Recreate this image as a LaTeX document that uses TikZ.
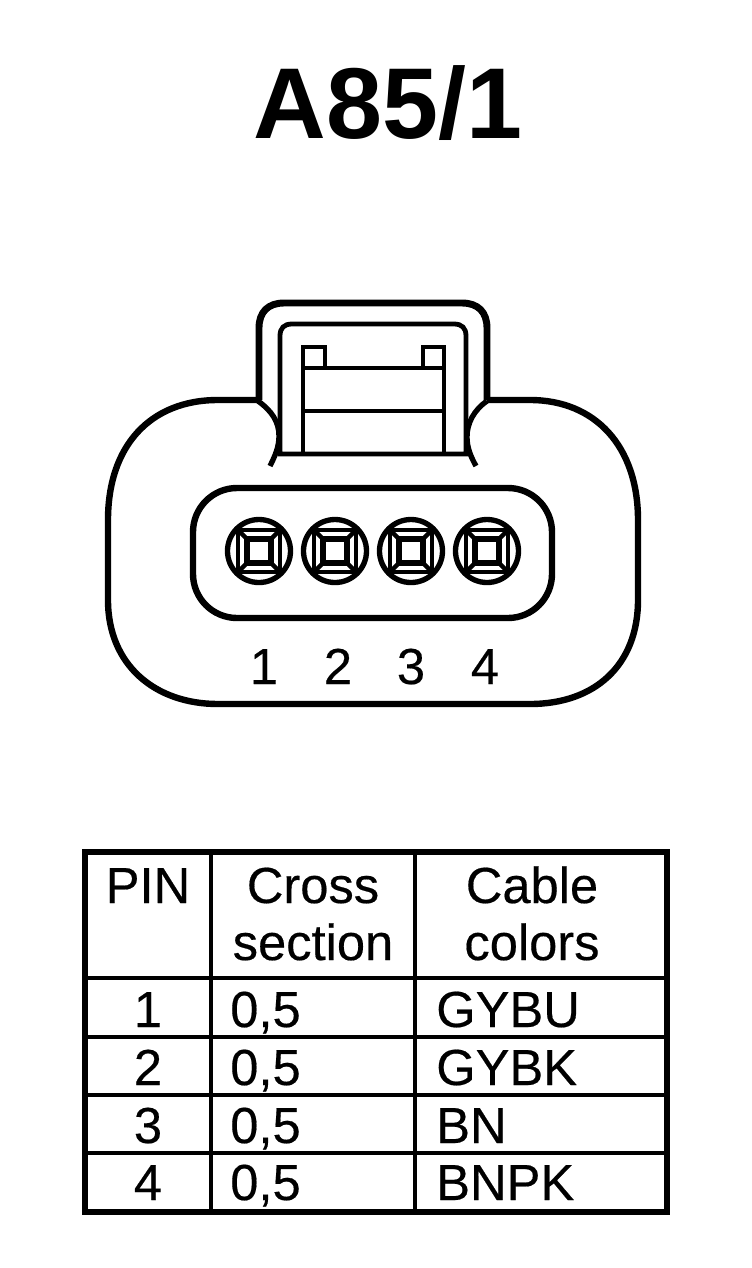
\documentclass[tikz,border=0pt]{standalone}
\usepackage{fontspec}
\setmainfont{Liberation Sans}
\newfontfamily\cellfont[FakeBold=0.35]{Liberation Sans}
\tikzset{
  x=0.75pt,y=-0.75pt,
  heavy/.style={line width=4.8pt,line join=round},
  bodyline/.style={line width=4pt,line join=round},
  thinl/.style={line width=3.6pt,line join=miter},
  pinl/.style={line width=3.8pt},
  cell/.style={font=\cellfont\fontsize{38pt}{43pt}\selectfont,inner sep=0pt,anchor=base},
  celll/.style={cell,anchor=base west},
  gridl/.style={line width=3.4pt},
  frame/.style={line width=4.4pt},
}
\newcommand{\pinsym}[1]{%
  \begin{scope}[shift={(#1,551)}]
    \draw[pinl,line width=4pt] (0,0) circle (31.5);
    \begin{scope}
      \clip (0,0) circle (32);
      \draw[pinl,line width=3.4pt] (-21,-21) rectangle (21,21);
      \draw[pinl,line width=3.4pt] (-12,-12) -- (-26,-26) (12,-12) -- (26,-26) (-12,12) -- (-26,26) (12,12) -- (26,26);
    \end{scope}
    \draw[pinl] (-12,-12) rectangle (12,12);
  \end{scope}}
\begin{document}
\begin{tikzpicture}
\useasboundingbox (0,0) rectangle (752,1268);
\fill[white] (0,0) rectangle (752,1268);
\node[inner sep=0pt,anchor=base,font=\fontsize{75.5pt}{76pt}\selectfont\bfseries] (title) at (388,138) {A85/1};
% housing
\draw[heavy,line width=5.2pt] (259,400) -- (259,328) .. controls (259,312) and (268,303) .. (284,303)
  -- (462,303) .. controls (478,303) and (487,312) .. (487,328) -- (487,400);
\draw[heavy] (259,400) -- (218,400) .. controls (150,400) and (108,446) .. (108,520)
  -- (108,600) .. controls (108,665) and (155,704) .. (218,704)
  -- (530,704) .. controls (595,704) and (638,665) .. (638,600)
  -- (638,520) .. controls (638,446) and (595,400) .. (530,400) -- (487,400);
\draw[bodyline] (258,401) .. controls (272,411) and (279,422) .. (279,436) .. controls (279,447) and (275,456) .. (270,466);
\draw[bodyline] (487,401) .. controls (474,410) and (467,423) .. (467,437) .. controls (467,448) and (471,457) .. (476,466);
% latch
\draw[thinl] (280,454) -- (280,336) .. controls (280,328) and (284,324) .. (292,324) -- (454,324) .. controls (462,324) and (466,328) .. (466,336) -- (466,454) -- cycle;
\draw[thinl] (303,454) -- (303,347) -- (325,347) -- (325,368);
\draw[thinl] (444,454) -- (444,347) -- (423,347) -- (423,368);
\draw[thinl] (303,368) -- (444,368) (303,411) -- (444,411);
% pin well
\draw[heavy,rounded corners=33pt] (193,488) rectangle (552,618);
\pinsym{259}\pinsym{335}\pinsym{411}\pinsym{487}
\foreach \n/\x in {1/264,2/338,3/411,4/485}
  \node[cell] (pin\n) at (\x,684) {\n};
% table
\draw[frame] (85,852) rectangle (667,1212);
\draw[gridl] (211,852) -- (211,1212) (415,852) -- (415,1212);
\draw[gridl] (85,978) -- (667,978) (85,1037) -- (667,1037) (85,1095) -- (667,1095) (85,1153) -- (667,1153);
\node[cell] (hpin) at (148,903) {PIN};
\node[cell] (hcrossa) at (313,903) {Cross};
\node[cell] (hcrossb) at (313,960) {section};
\node[cell] (hcolora) at (532,903) {Cable};
\node[cell] (hcolorb) at (532,960) {colors};
\foreach \n/\y/\c in {1/1027/GYBU,2/1085/GYBK,3/1143/BN,4/1200/BNPK}{
  \node[cell] (r\n a) at (148,\y) {\n};
  \node[celll] (r\n b) at (230,\y) {0,5};
  \node[celll] (r\n c) at (436,\y) {\c};
}
\end{tikzpicture}
\end{document}
